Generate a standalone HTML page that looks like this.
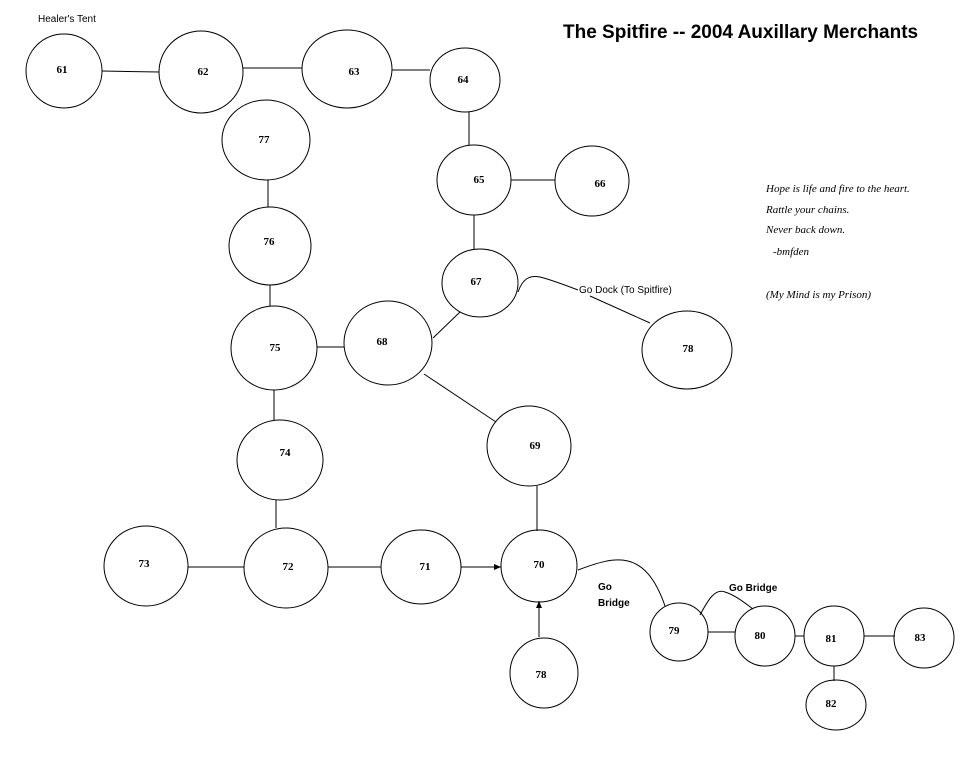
<!DOCTYPE html>
<html><head><style>
body{margin:0;background:#fff}
svg{display:block}
.n{font-family:"Liberation Serif",serif;font-weight:bold;font-size:11px;text-anchor:middle}
.s{font-family:"Liberation Serif",serif;font-style:italic;font-size:11px}
</style></head><body>
<svg width="970" height="770" viewBox="0 0 970 770" xmlns="http://www.w3.org/2000/svg">
<defs><marker id="a" markerWidth="8" markerHeight="8" refX="7" refY="4" orient="auto"><path d="M0,1 L7,4 L0,7z" fill="#000"/></marker></defs>
<rect width="970" height="770" fill="#fff"/>
<text x="563" y="38" font-family="Liberation Sans,sans-serif" font-weight="bold" font-size="19">The Spitfire -- 2004 Auxillary Merchants</text>
<text x="38" y="22" font-family="Liberation Sans,sans-serif" font-size="10">Healer's Tent</text>
<g stroke="#000" stroke-width="1" fill="none">
<line x1="102" y1="71" x2="159" y2="72"/>
<line x1="243" y1="68" x2="302" y2="68"/>
<line x1="392" y1="70" x2="430" y2="70"/>
<line x1="469" y1="112" x2="469" y2="145"/>
<line x1="511" y1="180" x2="555" y2="180"/>
<line x1="474" y1="215" x2="474" y2="249"/>
<line x1="268" y1="180" x2="268" y2="207"/>
<line x1="270" y1="285" x2="270" y2="306"/>
<line x1="317" y1="347" x2="344" y2="347"/>
<line x1="433" y1="338" x2="460" y2="312"/>
<line x1="424" y1="374" x2="496" y2="422"/>
<line x1="274" y1="390" x2="274" y2="420"/>
<line x1="276" y1="500" x2="276" y2="528"/>
<line x1="188" y1="567" x2="244" y2="567"/>
<line x1="328" y1="567" x2="381" y2="567"/>
<line x1="461" y1="567" x2="501" y2="567" marker-end="url(#a)"/>
<line x1="537" y1="486" x2="537" y2="531"/>
<line x1="539" y1="637" x2="539" y2="601" marker-end="url(#a)"/>
<path d="M578,570 C615,556 645,548 665,606"/>
<line x1="708" y1="632" x2="735" y2="632"/>
<path d="M700,615 C708,600 715,588 725,592 C735,595 745,603 753,609"/>
<line x1="795" y1="636" x2="804" y2="636"/>
<line x1="834" y1="666" x2="834" y2="681"/>
<line x1="864" y1="636" x2="895" y2="636"/>
<path d="M518,292 C523,278 530,275 540,277 C552,280 565,285 578,290"/>
<line x1="590" y1="296" x2="650" y2="323"/>
<ellipse cx="64" cy="71" rx="38" ry="37"/>
<ellipse cx="201" cy="72" rx="42" ry="41"/>
<ellipse cx="347" cy="69" rx="45" ry="39"/>
<ellipse cx="465" cy="80" rx="35" ry="32"/>
<ellipse cx="474" cy="180" rx="37" ry="35"/>
<ellipse cx="592" cy="181" rx="37" ry="35"/>
<ellipse cx="266" cy="140" rx="44" ry="40"/>
<ellipse cx="270" cy="246" rx="41" ry="39"/>
<ellipse cx="274" cy="348" rx="43" ry="42"/>
<ellipse cx="388" cy="343" rx="44" ry="42"/>
<ellipse cx="480" cy="283" rx="38" ry="34"/>
<ellipse cx="687" cy="350" rx="45" ry="39"/>
<ellipse cx="529" cy="446" rx="42" ry="40"/>
<ellipse cx="280" cy="460" rx="43" ry="40"/>
<ellipse cx="146" cy="566" rx="42" ry="40"/>
<ellipse cx="286" cy="568" rx="42" ry="40"/>
<ellipse cx="421" cy="567" rx="40" ry="37"/>
<ellipse cx="539" cy="566" rx="38" ry="36"/>
<ellipse cx="544" cy="673" rx="34" ry="35"/>
<ellipse cx="679" cy="632" rx="29" ry="29"/>
<ellipse cx="765" cy="636" rx="30" ry="30"/>
<ellipse cx="834" cy="636" rx="30" ry="30"/>
<ellipse cx="836" cy="705" rx="30" ry="25"/>
<ellipse cx="924" cy="638" rx="30" ry="30"/>
</g>
<g class="n">
<text x="62" y="73">61</text><text x="203" y="105" dy="-30">62</text><text x="354" y="75">63</text>
<text x="463" y="83">64</text><text x="479" y="183">65</text><text x="600" y="187">66</text>
<text x="264" y="143">77</text><text x="269" y="245">76</text><text x="275" y="351">75</text>
<text x="382" y="345">68</text><text x="476" y="285">67</text><text x="688" y="352">78</text>
<text x="535" y="449">69</text><text x="285" y="456">74</text><text x="144" y="567">73</text>
<text x="288" y="570">72</text><text x="425" y="570">71</text><text x="539" y="568">70</text>
<text x="541" y="678">78</text><text x="674" y="634">79</text><text x="760" y="639">80</text>
<text x="831" y="642">81</text><text x="831" y="707">82</text><text x="920" y="641">83</text>
</g>
<text x="579" y="293" font-family="Liberation Sans,sans-serif" font-size="10">Go Dock (To Spitfire)</text>
<g font-family="Liberation Sans,sans-serif" font-weight="bold" font-size="10">
<text x="598" y="590">Go</text><text x="598" y="606">Bridge</text>
<text x="729" y="591">Go Bridge</text>
</g>
<g class="s">
<text x="766" y="192">Hope is life and fire to the heart.</text>
<text x="766" y="213">Rattle your chains.</text>
<text x="766" y="233">Never back down.</text>
<text x="773" y="255">-bmfden</text>
<text x="766" y="298">(My Mind is my Prison)</text>
</g>
</svg>
</body></html>
